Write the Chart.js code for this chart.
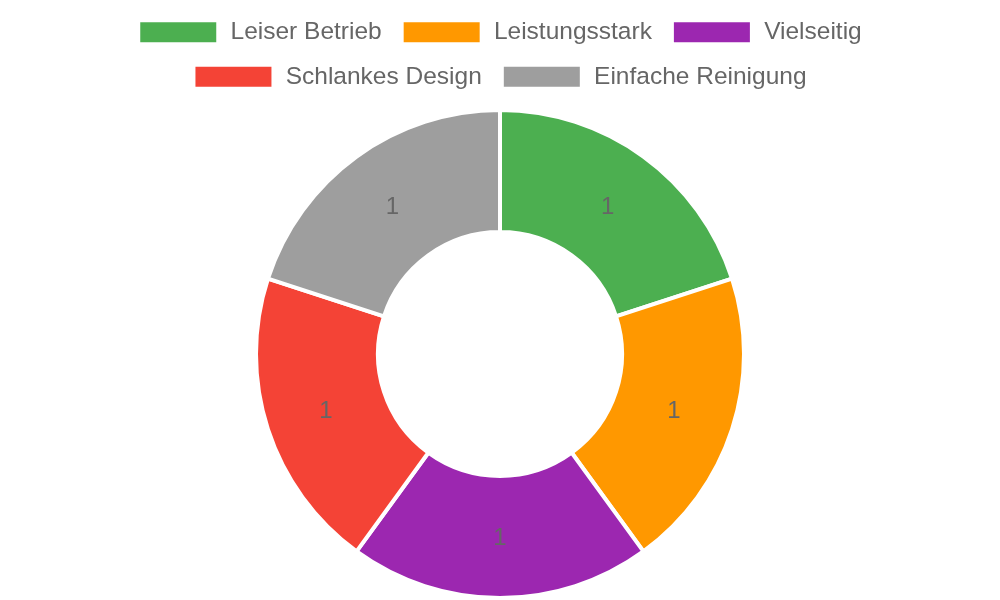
<!DOCTYPE html>
<html>
<head>
<meta charset="utf-8">
<script src="https://cdn.jsdelivr.net/npm/chart.js@4.4.0/dist/chart.umd.min.js"></script>
<style>
html, body { margin: 0; padding: 0; background: #fff; }
#wrap { width: 1000px; height: 600px; }
</style>
</head>
<body>
<div id="wrap"><canvas id="c" width="1000" height="600"></canvas></div>
<script>
const categories = ["Leiser Betrieb", "Leistungsstark", "Vielseitig", "Schlankes Design", "Einfache Reinigung"];
const values = [1, 1, 1, 1, 1];
const colors = ["#4CAF50", "#FF9800", "#9C27B0", "#F44336", "#9E9E9E"];

const FONT = "'Liberation Sans', Arial, sans-serif";

const legendMargin = {
  id: 'legendMargin',
  beforeInit(chart) {
    const origFit = chart.legend.fit;
    chart.legend.fit = function () {
      origFit.bind(chart.legend)();
      this.height += 9;
    };
  }
};

const sliceLabels = {
  id: 'sliceLabels',
  afterDatasetsDraw(chart) {
    const ctx = chart.ctx;
    const meta = chart.getDatasetMeta(0);
    const data = chart.data.datasets[0].data;
    ctx.save();
    ctx.font = "24px " + FONT;
    ctx.fillStyle = "#666666";
    ctx.textAlign = "center";
    ctx.textBaseline = "middle";
    meta.data.forEach((arc, i) => {
      const p = arc.tooltipPosition();
      ctx.fillText(String(data[i]), p.x, p.y + 1);
    });
    ctx.restore();
  }
};

new Chart(document.getElementById('c'), {
  type: 'doughnut',
  data: {
    labels: categories,
    datasets: [{
      data: values,
      backgroundColor: colors,
      borderColor: '#ffffff',
      borderWidth: 4,
      hoverOffset: 0
    }]
  },
  options: {
    responsive: false,
    animation: false,
    cutout: '50%',
    plugins: {
      legend: {
        position: 'top',
        labels: {
          font: { family: FONT, size: 24.5 },
          color: '#666666',
          boxWidth: 80,
          boxHeight: 24,
          padding: 20
        }
      },
      tooltip: { enabled: false }
    }
  },
  plugins: [legendMargin, sliceLabels]
});
</script>
</body>
</html>
